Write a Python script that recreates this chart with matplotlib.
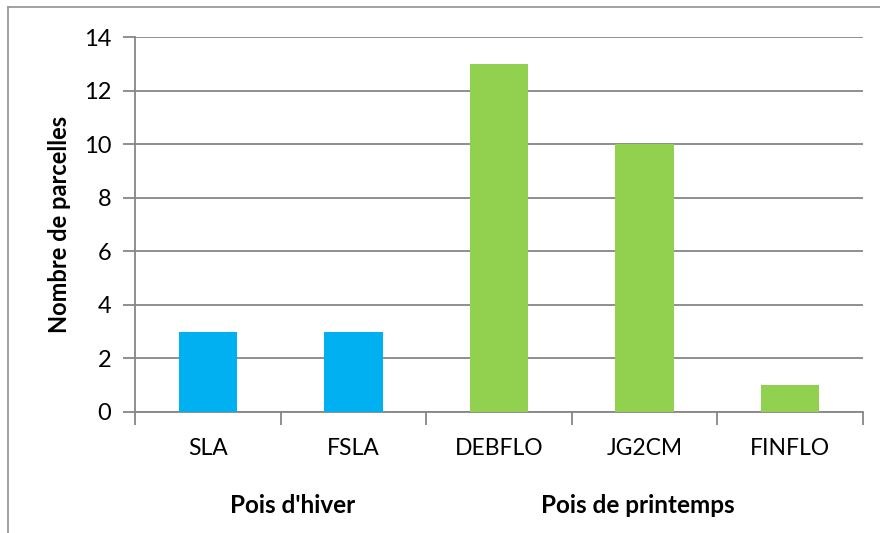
import matplotlib
matplotlib.use("Agg")
import matplotlib.pyplot as plt
from matplotlib.lines import Line2D
import numpy as np

categories = ["SLA", "FSLA", "DEBFLO", "JG2CM", "FINFLO"]
values = [3, 3, 13, 10, 1]
groups = ["Pois d'hiver", "Pois de printemps"]
group_sizes = [2, 3]
colors = ["#00B0F0", "#00B0F0", "#92D050", "#92D050", "#92D050"]
yticks = [0, 2, 4, 6, 8, 10, 12, 14]

plt.rcParams['font.family'] = ['Lato', 'DejaVu Sans']

fig = plt.figure(figsize=(8.8, 5.33), dpi=100)
W, H = 880, 533
ax = fig.add_axes([135 / W, 1 - 412 / H, (863 - 135) / W, (412 - 37) / H])

x = np.arange(len(categories))
ax.bar(x, values, width=0.4, color=colors, zorder=3)

gray = "#868686"
ax.set_xlim(-0.5, len(categories) - 0.5)
ax.set_ylim(0, 14)
ax.set_yticks(yticks)
ax.set_yticklabels([str(v) for v in yticks], fontsize=17)
ax.yaxis.grid(True, color=gray, linewidth=1.3, zorder=0)
ax.tick_params(axis='y', length=9, width=1.3, color=gray, pad=8)

ax.set_xticks(x)
ax.set_xticklabels(categories, fontsize=16.5)
ax.tick_params(axis='x', which='major', length=0, pad=19)
ax.set_xticks(np.arange(-0.5, len(categories), 1.0), minor=True)
ax.tick_params(axis='x', which='minor', length=9, width=1.3, color=gray)

for s in ['top', 'right']:
    ax.spines[s].set_visible(False)
for s in ['left', 'bottom']:
    ax.spines[s].set_color(gray)
    ax.spines[s].set_linewidth(1.3)

ax.set_ylabel("Nombre de parcelles", fontsize=17, fontweight='bold', labelpad=9)

# group labels
group_offsets = [0.085, -0.045]
start = 0
for g, n, off in zip(groups, group_sizes, group_offsets):
    center = start + (n - 1) / 2
    ax.text(center + off, -0.25, g, transform=ax.get_xaxis_transform(),
            ha='center', va='center', fontsize=17.5, fontweight='bold')
    start += n

# outer frame
fig.add_artist(Line2D([8 / W, 8 / W], [0, 1 - 7 / H], transform=fig.transFigure,
                      color="#9a9a9a", linewidth=1.3))
fig.add_artist(Line2D([8 / W, 1], [1 - 7 / H, 1 - 7 / H], transform=fig.transFigure,
                      color="#9a9a9a", linewidth=1.3))

fig.savefig("out.png", dpi=100)
